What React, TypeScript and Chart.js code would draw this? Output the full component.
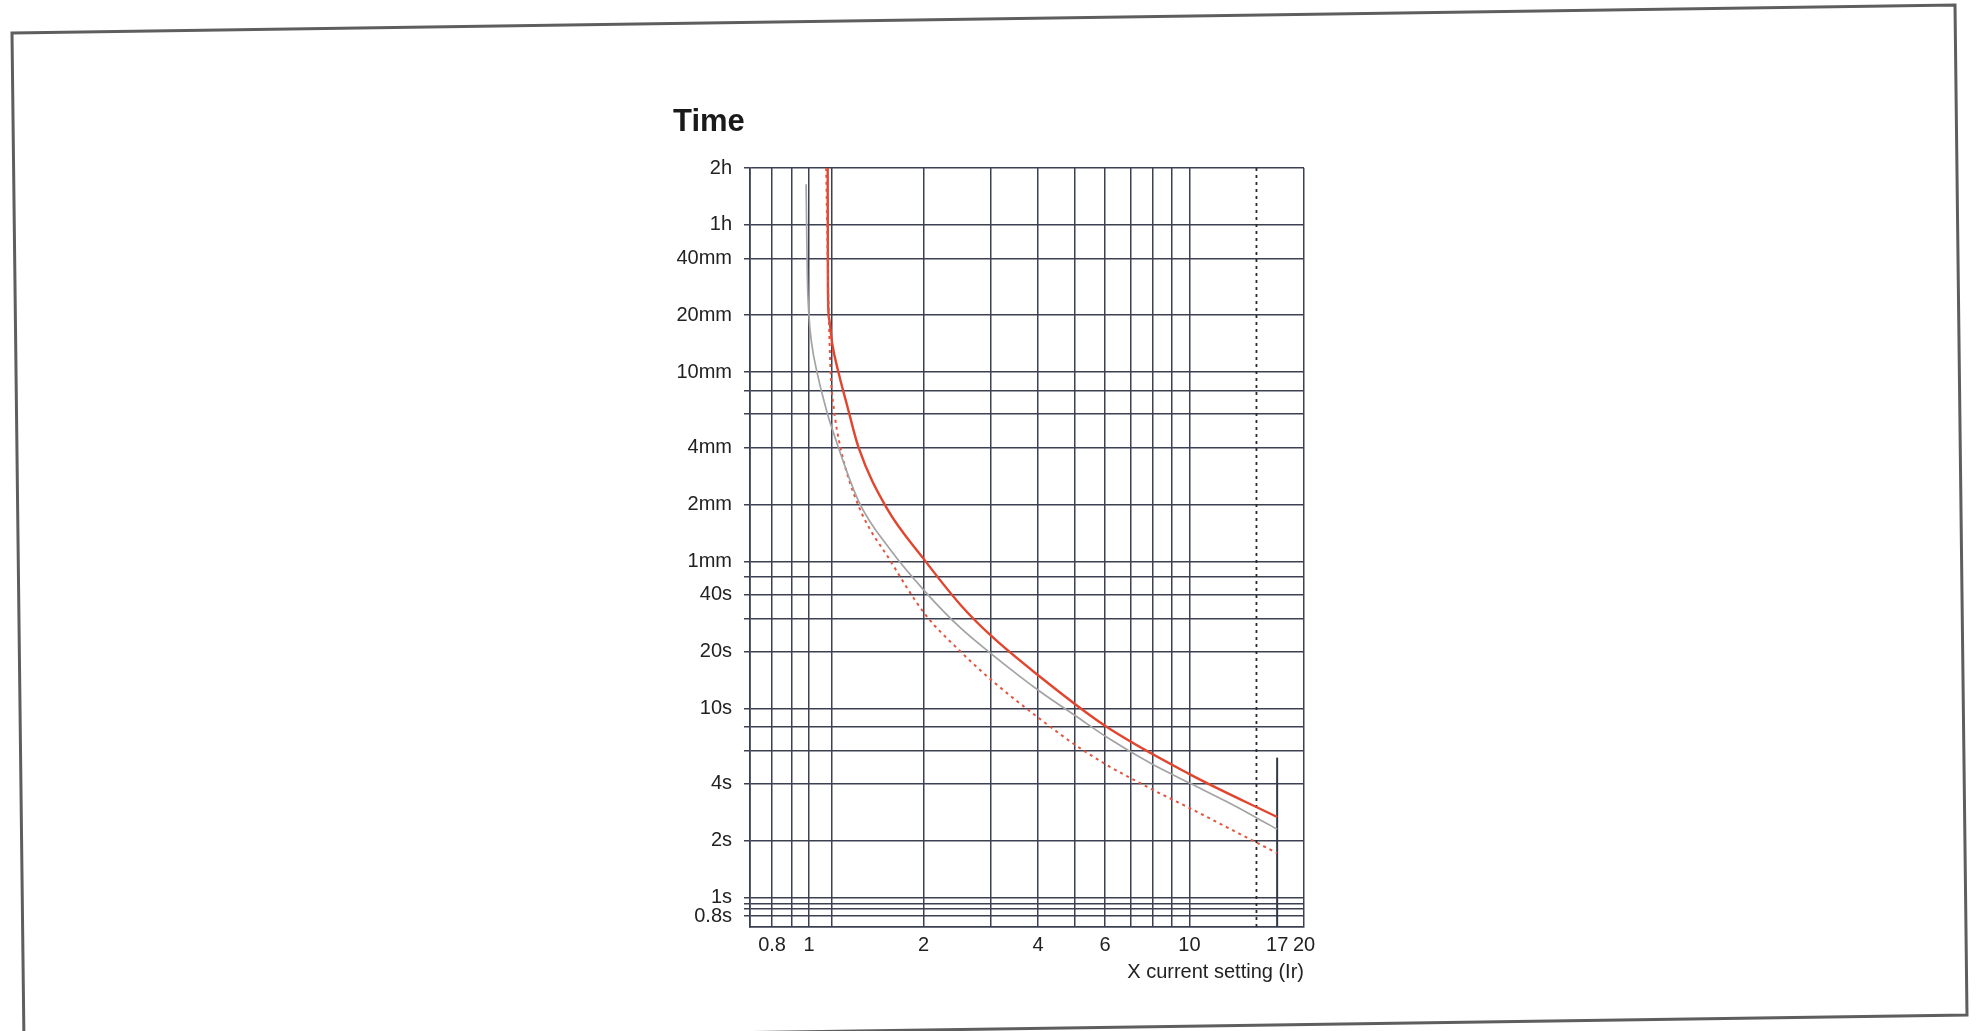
import React, { useEffect, useRef } from 'react';
import { Chart, registerables } from 'chart.js';

Chart.register(...registerables);

// ---- axis ticks / grid ----
const xTickValues = [0.8, 1, 2, 4, 6, 10, 17, 20];
const xTickLabels = ['0.8', '1', '2', '4', '6', '10', '17', '20'];
const xMinorGrid = [0.7, 0.9, 1.15, 3, 5, 7, 8, 9, 15];
const xHiddenGrid = [15, 17];

const yTickValues = [7200, 3600, 2400, 1200, 600, 240, 120, 60, 40, 20, 10, 4, 2, 1, 0.8];
const yTickLabels = ['2h', '1h', '40mm', '20mm', '10mm', '4mm', '2mm', '1mm', '40s', '20s', '10s', '4s', '2s', '1s', '0.8s'];
const yMinorGrid = [480, 360, 50, 30, 8, 6, 0.93, 0.87];

const xMin = 0.7;
const xMax = 20;
const yMin = 0.7;
const yMax = 7200;

// ---- curves (x = multiple of Ir, y = seconds) ----
const grayX = [0.983, 0.99, 1.0, 1.015, 1.05, 1.118, 1.15, 1.35, 1.637, 2.02, 2.49, 3.06, 4.05, 5.05, 6.1, 7.95, 10.1, 12.4, 15, 17];
const grayY = [5900, 2000, 1200, 870, 600, 363, 302, 125, 69, 41.5, 26.9, 19.0, 12.3, 9.07, 7.0, 5.1, 4.0, 3.25, 2.65, 2.3];

const redX = [1.12, 1.122, 1.13, 1.15, 1.2, 1.26, 1.35, 1.6, 2.0, 2.5, 3.0, 4.0, 6.0, 10.0, 17];
const redY = [7200, 1600, 1150, 860, 581, 400, 240, 115, 62, 35.4, 24.4, 15, 8.1, 4.5, 2.67];

const dotX = [1.11, 1.125, 1.14, 1.16, 1.21, 1.35, 1.64, 2.02, 2.49, 3.06, 4.05, 5.05, 6.1, 7.95, 10.1, 13.4, 17];
const dotY = [7200, 1500, 600, 400, 240, 118, 60, 31.5, 20.2, 13.8, 8.8, 6.35, 5.0, 3.75, 2.95, 2.2, 1.72];

const instLineX = 15; // dotted vertical
const settingLineX = 17; // short solid vertical
const settingLineTop = 5.5;

const FONT = '"Liberation Sans", Arial, Helvetica, sans-serif';
const GRID = '#3c4152';

const toPts = (xs: number[], ys: number[]) => xs.map((x, i) => ({ x, y: ys[i] }));

const labelFor = (vals: number[], labels: string[], v: number) => {
  const i = vals.findIndex((t) => Math.abs(t - v) < 1e-9);
  return i >= 0 ? labels[i] : '';
};

const decor = {
  id: 'decor',
  beforeDraw(chart: any) {
    const c = chart.ctx;
    c.save();
    c.strokeStyle = '#5e5e5e';
    c.lineWidth = 3;
    c.beginPath();
    c.moveTo(12, 33);
    c.lineTo(1955, 5);
    c.lineTo(1967, 1015);
    c.lineTo(24, 1043);
    c.closePath();
    c.stroke();
    c.restore();
  },
  afterDraw(chart: any) {
    const c = chart.ctx;
    const { left, top } = chart.chartArea;
    c.save();
    c.font = `bold 31px ${FONT}`;
    c.fillStyle = '#1a1a1a';
    c.textAlign = 'left';
    c.textBaseline = 'middle';
    c.fillText('Time', left - 77, top - 46);
    c.restore();
  },
};

export default function App() {
  const ref = useRef<HTMLCanvasElement | null>(null);

  useEffect(() => {
    if (!ref.current) return;
    const chart = new Chart(ref.current, {
      type: 'line',
      data: {
        datasets: [
          {
            label: 'gray',
            data: toPts(grayX, grayY),
            borderColor: '#a3a3a3',
            borderWidth: 1.7,
            pointRadius: 0,
            cubicInterpolationMode: 'monotone',
          },
          {
            label: 'dotted',
            data: toPts(dotX, dotY),
            borderColor: '#e6543d',
            borderWidth: 2,
            borderDash: [3, 4],
            pointRadius: 0,
            cubicInterpolationMode: 'monotone',
          },
          {
            label: 'red',
            data: toPts(redX, redY),
            borderColor: '#e2452e',
            borderWidth: 2.4,
            pointRadius: 0,
            cubicInterpolationMode: 'monotone',
          },
          {
            label: 'inst',
            data: [
              { x: instLineX, y: yMin },
              { x: instLineX, y: yMax },
            ],
            borderColor: '#2a2a2a',
            borderWidth: 1.8,
            borderDash: [3, 4],
            pointRadius: 0,
          },
          {
            label: 'setting',
            data: [
              { x: settingLineX, y: yMin },
              { x: settingLineX, y: settingLineTop },
            ],
            borderColor: '#333846',
            borderWidth: 2,
            pointRadius: 0,
          },
        ],
      },
      options: {
        animation: false,
        responsive: false,
        devicePixelRatio: 1,
        layout: { padding: { left: 660, right: 673, top: 168, bottom: 34 } },
        plugins: {
          legend: { display: false },
          tooltip: { enabled: false },
          title: { display: false },
        },
        scales: {
          x: {
            type: 'logarithmic',
            min: xMin,
            max: xMax,
            afterBuildTicks: (s: any) => {
              const all = [...xTickValues, ...xMinorGrid].sort((a, b) => a - b);
              s.ticks = all.map((v) => ({ value: v }));
            },
            afterFit: (s: any) => {
              s.height = 70;
            },
            grid: {
              drawTicks: false,
              lineWidth: 1.5,
              color: (ctx: any) =>
                ctx.tick && xHiddenGrid.includes(ctx.tick.value) ? 'rgba(0,0,0,0)' : GRID,
            },
            border: { display: true, color: GRID, width: 1.7 },
            ticks: {
              autoSkip: false,
              maxRotation: 0,
              padding: 6,
              color: '#222',
              font: { family: FONT, size: 20 },
              callback: (v: any) => labelFor(xTickValues, xTickLabels, Number(v)),
            },
            title: {
              display: true,
              text: 'X current setting (Ir)',
              align: 'end',
              color: '#222',
              font: { family: FONT, size: 20 },
              padding: { top: 0, bottom: 13 },
            },
          },
          y: {
            type: 'logarithmic',
            min: yMin,
            max: yMax,
            afterBuildTicks: (s: any) => {
              const all = [...yTickValues, ...yMinorGrid].sort((a, b) => a - b);
              s.ticks = all.map((v) => ({ value: v }));
            },
            afterFit: (s: any) => {
              s.width = 90;
            },
            grid: {
              drawTicks: true,
              tickLength: 6,
              lineWidth: 1.5,
              color: GRID,
            },
            border: { display: true, color: GRID, width: 1.7 },
            ticks: {
              autoSkip: false,
              padding: 12,
              color: '#222',
              font: { family: FONT, size: 20 },
              callback: (v: any) => labelFor(yTickValues, yTickLabels, Number(v)),
            },
          },
        },
      },
      plugins: [decor],
    } as any);
    return () => chart.destroy();
  }, []);

  return (
    <canvas
      ref={ref}
      width={1977}
      height={1031}
      style={{ position: 'absolute', left: 0, top: 0, width: '1977px', height: '1031px' }}
    />
  );
}
